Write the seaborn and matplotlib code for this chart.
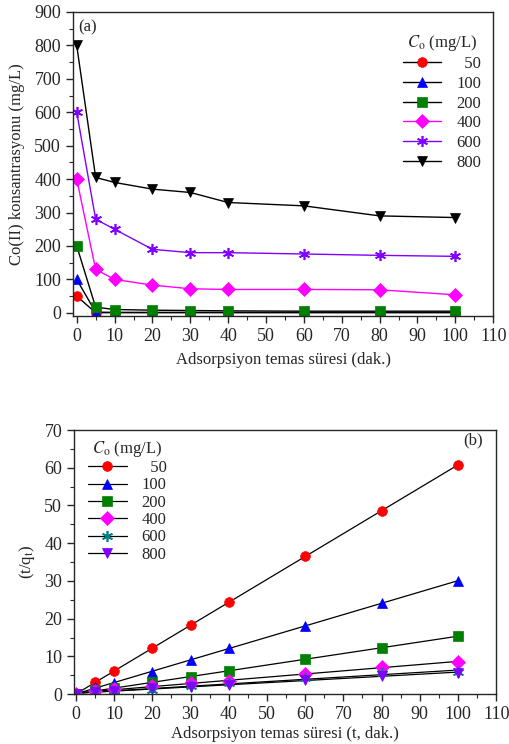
import numpy as np
import matplotlib
matplotlib.use('Agg')
import matplotlib.pyplot as plt
import seaborn as sns
from matplotlib.lines import Line2D

# --- data ---
time_a = [0, 5, 10, 20, 30, 40, 60, 80, 100]
conc_labels = ['50', '100', '200', '400', '600', '800']

c50 = [50, 0.5, 0.5, 0.5, 0.5, 0.5, 0.5, 0.5, 0.5]
c100 = [100, 2, 1.5, 1.5, 1.5, 1.5, 1.5, 1.5, 1.5]
c200 = [200, 17, 10, 8, 7, 6, 5, 5, 5]
c400 = [400, 130, 100, 83, 72, 70, 70, 69, 54]
c600 = [600, 280, 250, 190, 180, 180, 176, 172, 169]
c800 = [800, 405, 390, 370, 360, 330, 320, 290, 285]

time_b = [0, 5, 10, 20, 30, 40, 60, 80, 100]
tq50 = [0, 3.2, 6.1, 12.2, 18.2, 24.3, 36.5, 48.6, 60.8]
tq100 = [0, 1.8, 3.0, 6.0, 9.0, 12.1, 18.1, 24.2, 30.0]
tq200 = [0, 1.0, 1.6, 3.1, 4.6, 6.2, 9.2, 12.3, 15.4]
tq400 = [0, 0.8, 1.3, 2.2, 2.9, 3.6, 5.3, 7.1, 8.6]
tq600 = [0, 0.7, 0.9, 1.2, 2.2, 2.9, 4.2, 5.5, 5.9]
tq800 = [0, 0.6, 0.8, 1.5, 1.9, 2.5, 3.7, 4.8, 5.7]

sns.set_style('ticks')
plt.rcParams['font.family'] = ['Liberation Serif', 'DejaVu Serif']
plt.rcParams['mathtext.fontset'] = 'stix'
plt.rcParams['font.size'] = 12

markers = ['o', '^', 's', 'D', (6, 2, 0), 'v']
mcol_a = ['#ff0000', '#0000ff', '#008000', '#ff00ff', '#8000ff', '#000000']
lcol_a = ['#000000', '#000000', '#000000', '#ff00ff', '#8000ff', '#000000']
mcol_b = ['#ff0000', '#0000ff', '#008000', '#ff00ff', '#008080', '#8000ff']

fig = plt.figure(figsize=(5.1, 7.44), dpi=100)
ax1 = fig.add_axes([0.143, 0.575, 0.824, 0.409])
ax2 = fig.add_axes([0.145, 0.067, 0.828, 0.355])

# --- panel (a) ---
series_a = [c50, c100, c200, c400, c600, c800]
handles_a = []
for i, vals in enumerate(series_a):
    star = isinstance(markers[i], tuple)
    sns.lineplot(x=time_a, y=vals, ax=ax1, color=lcol_a[i], lw=1,
                 marker=markers[i], markersize=8 if star else 7,
                 markerfacecolor=mcol_a[i],
                 markeredgecolor=mcol_a[i], markeredgewidth=1.2 if star else 0.5)
    handles_a.append(Line2D([], [], color=lcol_a[i], lw=1, marker=markers[i],
                            markersize=8 if star else 7, markerfacecolor=mcol_a[i],
                            markeredgecolor=mcol_a[i],
                            markeredgewidth=1.2 if star else 0.5))

ax1.set_xlim(-1, 110)
ax1.set_ylim(-10, 900)
ax1.set_xticks(np.arange(0, 111, 10))
ax1.set_yticks(np.arange(0, 901, 100))
ax1.set_xticks(np.arange(5, 110, 10), minor=True)
ax1.set_yticks(np.arange(50, 900, 100), minor=True)
ax1.set_xlabel('Adsorpsiyon temas süresi (dak.)', labelpad=5)
ax1.set_ylabel('Co(II) konsantrasyonu (mg/L)', labelpad=7)
ax1.text(0.5, 855, '(a)', ha='left', va='center')
leg1 = ax1.legend(handles_a, ['  ' + s if len(s) == 2 else s for s in conc_labels],
                  title=r'$C_{\mathrm{o}}$ (mg/L)', loc='upper right',
                  bbox_to_anchor=(0.995, 0.965), frameon=False, handlelength=2.3,
                  labelspacing=0.22, handletextpad=0.9, borderaxespad=0.2)
leg1.get_title().set_fontsize(12)

# --- panel (b) ---
series_b = [tq50, tq100, tq200, tq400, tq600, tq800]
handles_b = []
for i, vals in enumerate(series_b):
    sns.regplot(x=np.array(time_b), y=np.array(vals), ax=ax2, ci=None, scatter=False,
                truncate=True, line_kws=dict(color='k', lw=0.9))
for i, vals in enumerate(series_b):
    star = isinstance(markers[i], tuple)
    sns.lineplot(x=time_b, y=vals, ax=ax2, linestyle='', marker=markers[i],
                 markersize=8 if star else 7, color=mcol_b[i],
                 markerfacecolor=mcol_b[i], markeredgecolor=mcol_b[i],
                 markeredgewidth=1.2 if star else 0.5)
    handles_b.append(Line2D([], [], color='k', lw=0.9, marker=markers[i],
                            markersize=8 if star else 7, markerfacecolor=mcol_b[i],
                            markeredgecolor=mcol_b[i],
                            markeredgewidth=1.2 if star else 0.5))

ax2.set_xlim(-0.5, 110)
ax2.set_ylim(0, 70)
ax2.set_xticks(np.arange(0, 111, 10))
ax2.set_yticks(np.arange(0, 71, 10))
ax2.set_xticks(np.arange(5, 110, 10), minor=True)
ax2.set_yticks(np.arange(5, 70, 10), minor=True)
ax2.set_xlabel('Adsorpsiyon temas süresi (t, dak.)', labelpad=2)
ax2.set_ylabel(r'(t/q$_{\mathrm{t}}$)', labelpad=5)
ax2.text(106.5, 67.3, '(b)', ha='right', va='center')
leg2 = ax2.legend(handles_b, ['  ' + s if len(s) == 2 else s for s in conc_labels],
                  title=r'$C_{\mathrm{o}}$ (mg/L)', loc='upper left',
                  bbox_to_anchor=(0.01, 1.005), frameon=False, handlelength=2.3,
                  labelspacing=0.08, handletextpad=0.9, borderaxespad=0.2)
leg2.get_title().set_fontsize(12)

for ax in (ax1, ax2):
    for s in ax.spines.values():
        s.set_linewidth(1.0)
        s.set_visible(True)
    ax.tick_params(which='major', direction='out', length=5, width=1,
                   top=False, right=False, labelsize=13)
    ax.tick_params(which='minor', direction='out', length=3, width=0.8,
                   top=False, right=False)

fig.savefig('out.png', dpi=100)
